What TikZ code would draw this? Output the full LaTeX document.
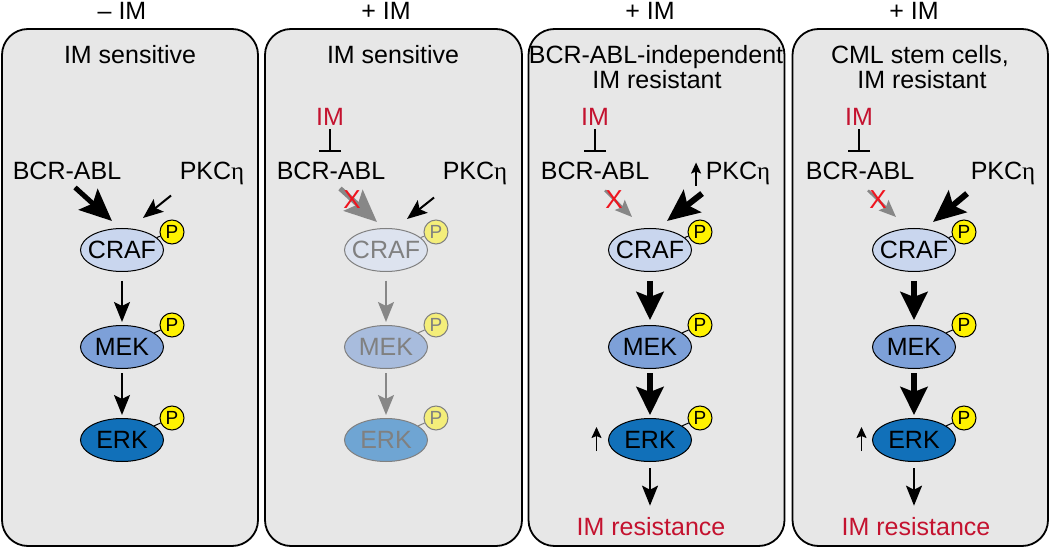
\documentclass[tikz,border=0pt]{standalone}
\usepackage{fontspec}
\setmainfont{Liberation Sans}
\newfontfamily\grfont{Liberation Serif}
\usetikzlibrary{arrows.meta,shapes.geometric}
\definecolor{panelbg}{RGB}{231,231,231}
\definecolor{crafc}{RGB}{201,214,238}
\definecolor{mekc}{RGB}{125,160,216}
\definecolor{erkc}{RGB}{17,112,185}
\definecolor{fcrafc}{RGB}{221,227,239}
\definecolor{fmekc}{RGB}{168,188,221}
\definecolor{ferkc}{RGB}{111,165,211}
\definecolor{ftext}{RGB}{128,128,128}
\definecolor{imred}{RGB}{196,18,47}
\definecolor{xred}{RGB}{240,20,30}
\definecolor{pyel}{RGB}{255,242,0}
\definecolor{fpyel}{RGB}{244,238,122}
\definecolor{garrow}{RGB}{135,135,135}
\newcommand\etag{{\grfont η}}
\begin{document}
\begin{tikzpicture}[x=1pt,y=-1pt,
  txt/.style={font=\fontsize{25}{29}\selectfont, inner sep=0pt, anchor=base},
  redtxt/.style={txt, text=imred},
  panel/.style={draw=black, line width=1.8pt, fill=panelbg, rounded corners=26pt},
  ell/.style={ellipse, draw=black, line width=1pt, minimum width=83pt, minimum height=43pt, inner sep=0pt, font=\fontsize{25}{29}\selectfont},
  crafn/.style={ell, fill=crafc},
  mekn/.style={ell, fill=mekc},
  erkn/.style={ell, fill=erkc},
  fcrafn/.style={ell, fill=fcrafc, draw=ftext, text=ftext},
  fmekn/.style={ell, fill=fmekc, draw=ftext, text=ftext},
  ferkn/.style={ell, fill=ferkc, draw=ftext, text=ftext},
  pball/.style={circle, draw=black, line width=1pt, fill=pyel, minimum size=24pt, inner sep=0pt, font=\fontsize{19}{21}\selectfont},
  fpball/.style={pball, draw=ftext, fill=fpyel, text=ftext},
  plink/.style={line width=1pt},
  fplink/.style={line width=1pt, draw=ftext},
  arrthin/.style={line width=2pt, -{Stealth[length=20pt,width=16pt,inset=4pt]}},
  garrthin/.style={line width=2.5pt, draw=garrow, -{Stealth[length=17pt,width=14pt,inset=3pt]}},
  arrbig/.style={line width=5pt, -{Stealth[length=32pt,width=28pt,inset=6pt]}},
  arrthick/.style={line width=6pt, -{Stealth[length=28pt,width=27pt,inset=5pt]}},
  arrsmall/.style={line width=1.6pt, -{Stealth[length=11pt,width=10pt,inset=2pt]}},
  inhib/.style={line width=2pt, -{Bar[width=22pt,line width=2pt]}},
  xmark/.style={text=xred, font=\fontsize{26}{28}\selectfont, inner sep=0pt},
]
\useasboundingbox (0,0) rectangle (1050,548);

% panels
\draw[panel] (2,29) rectangle (258,546);
\draw[panel] (265,29) rectangle (522,546);
\draw[panel] (528.5,29) rectangle (784.5,546);
\draw[panel] (792.5,29) rectangle (1048,546);

% headers
\node[txt] (h1) at (122,20) {– IM};
\node[txt] (h2) at (386,20) {+ IM};
\node[txt] (h3) at (650,20) {+ IM};
\node[txt] (h4) at (914,20) {+ IM};
\node[txt] (s1) at (130,64) {IM sensitive};
\node[txt] (s2) at (393,64) {IM sensitive};
\node[txt] (s3a) at (656,64) {BCR-ABL-independent};
\node[txt] (s3b) at (657,89) {IM resistant};
\node[txt] (s4a) at (920,64) {CML stem cells,};
\node[txt] (s4b) at (922,89) {IM resistant};

% ===== cascades =====
% panel 1
\node[crafn] (craf1) at (122,250) {\makebox[0pt]{CRAF}};
\node[mekn] (mek1) at (122,347) {\makebox[0pt]{MEK}};
\node[erkn] (erk1) at (122,440) {\makebox[0pt]{ERK}};
\node[pball] (pc1) at (172,232) {P};
\node[pball] (pm1) at (172,325) {P};
\node[pball] (pe1) at (172,418) {P};
% panel 2
\node[fcrafn] (craf2) at (386,250) {\makebox[0pt]{CRAF}};
\node[fmekn] (mek2) at (386,347) {\makebox[0pt]{MEK}};
\node[ferkn] (erk2) at (386,440) {\makebox[0pt]{ERK}};
\node[fpball] (pc2) at (436,232) {P};
\node[fpball] (pm2) at (436,325) {P};
\node[fpball] (pe2) at (436,418) {P};
% panel 3
\node[crafn] (craf3) at (650,250) {\makebox[0pt]{CRAF}};
\node[mekn] (mek3) at (650,347) {\makebox[0pt]{MEK}};
\node[erkn] (erk3) at (650,440) {\makebox[0pt]{ERK}};
\node[pball] (pc3) at (700,232) {P};
\node[pball] (pm3) at (700,325) {P};
\node[pball] (pe3) at (700,418) {P};
% panel 4
\node[crafn] (craf4) at (914,250) {\makebox[0pt]{CRAF}};
\node[mekn] (mek4) at (914,347) {\makebox[0pt]{MEK}};
\node[erkn] (erk4) at (914,440) {\makebox[0pt]{ERK}};
\node[pball] (pc4) at (964,232) {P};
\node[pball] (pm4) at (964,325) {P};
\node[pball] (pe4) at (964,418) {P};

% P links
\foreach \i in {1,3,4}{
  \draw[plink] (craf\i) -- (pc\i);
  \draw[plink] (mek\i) -- (pm\i);
  \draw[plink] (erk\i) -- (pe\i);
}
\draw[fplink] (craf2) -- (pc2);
\draw[fplink] (mek2) -- (pm2);
\draw[fplink] (erk2) -- (pe2);

% vertical arrows
\draw[arrthin, shorten <=9pt, shorten >=3pt] (craf1) -- (mek1);
\draw[arrthin, shorten <=4pt, shorten >=3pt] (mek1) -- (erk1);
\draw[arrthin, draw=garrow, fill=garrow, shorten <=9pt, shorten >=3pt] (craf2) -- (mek2);
\draw[arrthin, draw=garrow, fill=garrow, shorten <=4pt, shorten >=3pt] (mek2) -- (erk2);
\foreach \i in {3,4}{
  \draw[arrthick, shorten <=9pt, shorten >=5pt] (craf\i) -- (mek\i);
  \draw[arrthick, shorten <=4pt, shorten >=3pt] (mek\i) -- (erk\i);
}

% ===== upstream labels =====
\node[txt] (bcr1) at (67,180) {BCR-ABL};
\node[txt] (pkc1) at (212,180) {PKC\etag};
\node[redtxt] (im2) at (330,126) {IM};
\node[txt] (bcr2) at (331,180) {BCR-ABL};
\node[txt] (pkc2) at (475,180) {PKC\etag};
\node[redtxt] (im3) at (595,126) {IM};
\node[txt] (bcr3) at (595,180) {BCR-ABL};
\node[txt] (pkc3) at (738,180) {PKC\etag};
\node[redtxt] (im4) at (859,126) {IM};
\node[txt] (bcr4) at (860,180) {BCR-ABL};
\node[txt] (pkc4) at (1003,180) {PKC\etag};

% inhibition
\foreach \i in {2,3,4}{
  \draw[inhib, shorten <=3pt] (im\i.south) -- ([yshift=10pt]im\i.south |- bcr\i.north);
}

% panel 1 inputs
\coordinate (b1s) at ([shift={(8,7)}]bcr1.south);
\coordinate (b1e) at ([shift={(-10,-7)}]craf1.north);
\draw[arrbig] (b1s) -- (b1e);
\coordinate (k1s) at ([shift={(-8.5,10)}]pkc1.south west);
\coordinate (k1e) at ([shift={(21,-10)}]craf1.north);
\draw[arrthin] (k1s) -- (k1e);

% panel 2 inputs
\coordinate (b2s) at ([shift={(9,8)}]bcr2.south);
\coordinate (b2e) at ([shift={(-9,-6)}]craf2.north);
\draw[arrbig, draw=garrow, fill=garrow] (b2s) -- (b2e);
\node[xmark] (x2) at (352,200) {X};
\coordinate (k2s) at ([shift={(-8.5,12)}]pkc2.south west);
\coordinate (k2e) at ([shift={(21,-9)}]craf2.north);
\draw[arrthin] (k2s) -- (k2e);

% panel 3 inputs
\coordinate (b3s) at ([shift={(10,10)}]bcr3.south);
\coordinate (b3e) at ([shift={(-18,-11)}]craf3.north);
\draw[garrthin, fill=garrow] (b3s) -- (b3e);
\node[xmark] (x3) at (614,200) {X};
\coordinate (k3s) at ([shift={(-3.5,8)}]pkc3.south west);
\coordinate (k3e) at ([shift={(17,-7)}]craf3.north);
\draw[arrbig, line width=6pt] (k3s) -- (k3e);
\coordinate (u3s) at ([shift={(-9.5,0)}]pkc3.south west);
\coordinate (u3e) at ([shift={(-9.5,-23)}]pkc3.south west);
\draw[arrsmall] (u3s) -- (u3e);

% panel 4 inputs
\coordinate (b4s) at ([shift={(8,10)}]bcr4.south);
\coordinate (b4e) at ([shift={(-18,-11)}]craf4.north);
\draw[garrthin, fill=garrow] (b4s) -- (b4e);
\node[xmark] (x4) at (878,200) {X};
\coordinate (k4s) at ([shift={(-3.5,8)}]pkc4.south west);
\coordinate (k4e) at ([shift={(19,-6)}]craf4.north);
\draw[arrbig, line width=6pt] (k4s) -- (k4e);

% ERK up arrows and outputs
\coordinate (e3s) at ([shift={(-11.5,11)}]erk3.west);
\coordinate (e3e) at ([shift={(-11.5,-13)}]erk3.west);
\draw[arrsmall] (e3s) -- (e3e);
\coordinate (e4s) at ([shift={(-10.5,11)}]erk4.west);
\coordinate (e4e) at ([shift={(-10.5,-13)}]erk4.west);
\draw[arrsmall] (e4s) -- (e4e);

\node[redtxt] (res3) at (651,535) {IM resistance};
\node[redtxt] (res4) at (916,535) {IM resistance};
\draw[arrthin, shorten <=6pt, shorten >=11pt] (erk3.south) -- (erk3.south |- res3.north);
\draw[arrthin, shorten <=6pt, shorten >=11pt] (erk4.south) -- (erk4.south |- res4.north);
\end{tikzpicture}
\end{document}
